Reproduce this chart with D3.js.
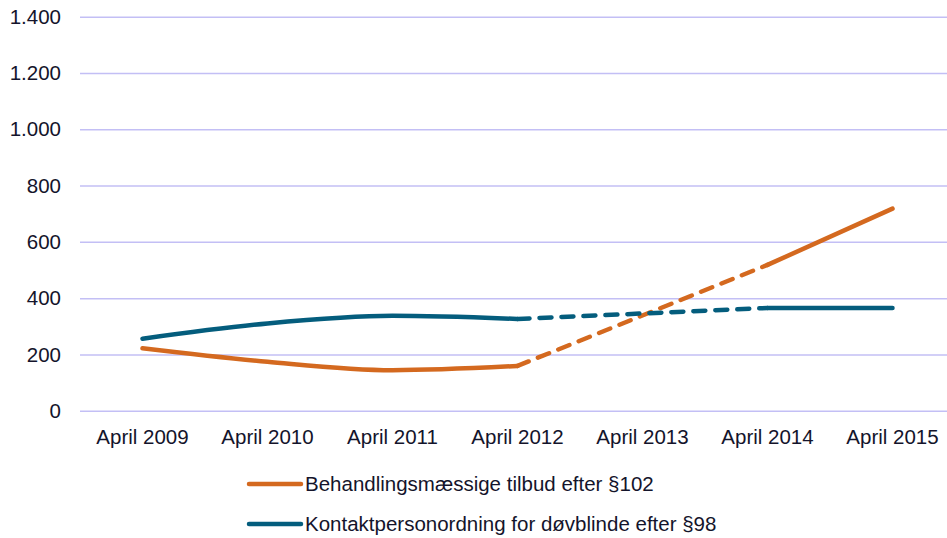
<!doctype html>
<html lang="da">
<head>
<meta charset="utf-8">
<title>Behandlingsmæssige tilbud og kontaktpersonordning</title>
<script src="https://d3js.org/d3.v7.min.js"></script>
<style>
  body { margin: 0; background: #fff; }
  text { font-family: "Liberation Sans", Arial, sans-serif; fill: #14142b; }
  .grid line { stroke: #c3bff5; stroke-width: 1.5; }
  .grid path { display: none; }
</style>
</head>
<body>
<div id="chart"></div>
<script>
var categories = ["April 2009", "April 2010", "April 2011", "April 2012", "April 2013", "April 2014", "April 2015"];
var behandling = [222, 174, 144, 159, null, 518, 718];
var kontakt = [256, 310, 337, 326, null, 365, 365];
var yTicks = [0, 200, 400, 600, 800, 1000, 1200, 1400];
var seriesNames = ["Behandlingsmæssige tilbud efter §102", "Kontaktpersonordning for døvblinde efter §98"];
var seriesColors = ["#d4691f", "#045d7d"];

var width = 947, height = 538;
var plotLeft = 80, plotRight = 955, plotTop = 16.7, plotBottom = 410.7;
var fontSize = "20.5px";

var svg = d3.select("#chart").append("svg")
  .attr("width", width)
  .attr("height", height);

var x = d3.scaleBand().domain(categories).range([plotLeft, plotRight]);
var y = d3.scaleLinear().domain([0, 1400]).range([plotBottom, plotTop]);

// gridlines
svg.append("g")
  .attr("class", "grid")
  .attr("transform", "translate(" + plotLeft + ",0)")
  .call(d3.axisLeft(y).tickValues(yTicks).tickSize(-(plotRight - plotLeft)).tickFormat(""));

// y labels
svg.selectAll(".ylab").data(yTicks).enter().append("text")
  .attr("class", "ylab")
  .attr("x", 61)
  .attr("y", function(d) { return y(d); })
  .attr("dy", "0.35em")
  .attr("text-anchor", "end")
  .style("font-size", fontSize)
  .text(function(d) { return d3.format(",")(d).replace(/,/g, "."); });

// x labels
svg.selectAll(".xlab").data(categories).enter().append("text")
  .attr("class", "xlab")
  .attr("x", function(d) { return x(d) + x.bandwidth() / 2; })
  .attr("y", 443.5)
  .attr("text-anchor", "middle")
  .style("font-size", fontSize)
  .text(function(d) { return d; });

function cx(i) { return x(categories[i]) + x.bandwidth() / 2; }

var solid = d3.line()
  .defined(function(d) { return d != null; })
  .x(function(d, i) { return cx(i); })
  .y(function(d) { return y(d); })
  .curve(d3.curveMonotoneX);

[behandling, kontakt].forEach(function(vals, s) {
  svg.append("path")
    .datum(vals)
    .attr("d", solid)
    .attr("fill", "none")
    .attr("stroke", seriesColors[s])
    .attr("stroke-width", 4.5)
    .attr("stroke-linecap", "round")
    .attr("stroke-linejoin", "round");

  // dashed bridge over missing points
  var pts = [];
  vals.forEach(function(v, i) { if (v != null) pts.push([cx(i), y(v), i]); });
  for (var k = 1; k < pts.length; k++) {
    if (pts[k][2] - pts[k - 1][2] > 1) {
      svg.append("path")
        .attr("d", d3.line()([pts[k - 1], pts[k]]))
        .attr("fill", "none")
        .attr("stroke", seriesColors[s])
        .attr("stroke-width", 4.5)
        .attr("stroke-linecap", "round")
        .attr("stroke-dasharray", "12,10");
    }
  }
});

// legend
var legend = svg.selectAll(".leg").data(seriesNames).enter().append("g")
  .attr("class", "leg")
  .attr("transform", function(d, i) { return "translate(249," + (484 + i * 40) + ")"; });
legend.append("line")
  .attr("x1", 0).attr("x2", 52).attr("y1", 0).attr("y2", 0)
  .attr("stroke", function(d, i) { return seriesColors[i]; })
  .attr("stroke-width", 4.5)
  .attr("stroke-linecap", "round");
legend.append("text")
  .attr("x", 56)
  .attr("y", 0)
  .attr("dy", "0.33em")
  .style("font-size", fontSize)
  .text(function(d) { return d; });
</script>
</body>
</html>
